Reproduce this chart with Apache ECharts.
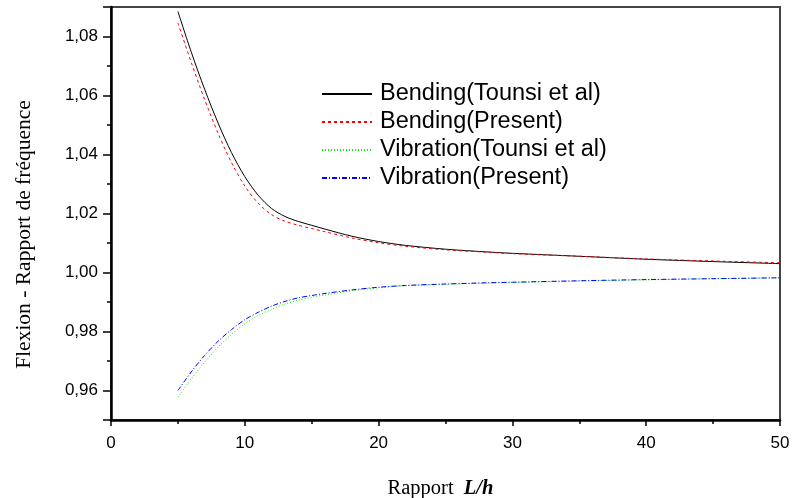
<!DOCTYPE html>
<html>
<head>
<meta charset="utf-8">
<script src="https://cdn.jsdelivr.net/npm/echarts@6/dist/echarts.min.js"></script>
<style>
  html, body { margin: 0; padding: 0; background: #fff; }
  #chart { width: 792px; height: 498px; }
</style>
</head>
<body>
<div id="chart"></div>
<script>
// rapport L/h
var ratioLh = [5, 6, 7, 8, 9, 10, 11, 12, 13, 14, 15, 16, 18, 20, 22, 25, 28, 30, 35, 40, 45, 50];

var bendingTounsi = [1.0885, 1.0747, 1.0621, 1.0507, 1.0407, 1.0325, 1.0262, 1.0217, 1.0190, 1.0173, 1.0160,
  1.0147, 1.0123, 1.0105, 1.0092, 1.0079, 1.0070, 1.0065, 1.0055, 1.0045, 1.0037, 1.0030];
var bendingPresent = [1.0846, 1.0712, 1.0586, 1.0472, 1.0373, 1.0293, 1.0235, 1.0196, 1.0174, 1.0160, 1.0149,
  1.0138, 1.0117, 1.0101, 1.0089, 1.0077, 1.0069, 1.0064, 1.0055, 1.0046, 1.0039, 1.0033];
var vibrationTounsi = [0.9577, 0.9640, 0.9696, 0.9747, 0.9790, 0.9826, 0.9854, 0.9875, 0.9893, 0.9906, 0.9916,
  0.9924, 0.9938, 0.9948, 0.9955, 0.9960, 0.9964, 0.9966, 0.9971, 0.9975, 0.9979, 0.9982];
var vibrationPresent = [0.9600, 0.9663, 0.9719, 0.9767, 0.9806, 0.9840, 0.9865, 0.9886, 0.9902, 0.9914, 0.9922,
  0.9929, 0.9941, 0.9950, 0.9956, 0.9961, 0.9965, 0.9967, 0.9972, 0.9976, 0.9979, 0.9982];

var seriesNames = ['Bending(Tounsi et al)', 'Bending(Present)', 'Vibration(Tounsi et al)', 'Vibration(Present)'];

function pairs(vals) {
  return ratioLh.map(function (x, i) { return [x, vals[i]]; });
}

var chart = echarts.init(document.getElementById('chart'), null, { renderer: 'canvas' });

var sans = 'Liberation Sans, Arial, sans-serif';
var serif = 'Liberation Serif, Times New Roman, serif';

function lineSerie(name, vals, color, dash) {
  return {
    name: name,
    type: 'line',
    data: pairs(vals),
    smooth: 0.3,
    symbol: 'none',
    lineStyle: { color: color, width: 1, type: dash },
    itemStyle: { color: color },
    z: 3
  };
}

chart.setOption({
  animation: false,
  backgroundColor: '#fff',
  grid: {
    left: 111,
    right: 12,
    top: 7,
    bottom: 78,
    outerBoundsMode: 'none',
    show: true,
    borderColor: '#444',
    borderWidth: 2
  },
  legend: {
    data: seriesNames,
    orient: 'vertical',
    left: 316,
    top: 76,
    itemWidth: 50,
    itemHeight: 14,
    itemGap: 2,
    itemStyle: { opacity: 0 },
    lineStyle: { opacity: 1 },
    textStyle: {
      fontFamily: sans,
      fontSize: 23.5,
      lineHeight: 26,
      color: '#000',
      padding: [0, 0, 0, 3]
    }
  },
  xAxis: {
    type: 'value',
    min: 0,
    max: 50,
    interval: 10,
    name: 'Rapport  {b|L/h}',
    nameLocation: 'middle',
    nameGap: 58,
    nameTextStyle: {
      fontFamily: serif,
      fontSize: 20.5,
      color: '#000',
      padding: [0, 10, 0, 0],
      rich: {
        b: { fontFamily: serif, fontSize: 20.5, fontWeight: 'bold', fontStyle: 'italic', color: '#000' }
      }
    },
    axisLine: { onZero: false, lineStyle: { color: '#000', width: 2.5 } },
    axisTick: { length: 6, lineStyle: { color: '#000', width: 1.5 } },
    minorTick: { show: true, splitNumber: 2, length: 4, lineStyle: { color: '#000', width: 1.5 } },
    splitLine: { show: false },
    axisLabel: { fontFamily: sans, fontSize: 17, color: '#000', margin: 15 }
  },
  yAxis: {
    type: 'value',
    min: 0.95,
    max: 1.09,
    splitNumber: 7,
    name: 'Flexion - Rapport de fréquence',
    nameLocation: 'middle',
    nameGap: 76,
    nameTextStyle: {
      fontFamily: serif,
      fontSize: 21.5,
      color: '#000',
      padding: [0, 42, 0, 0]
    },
    axisLine: { lineStyle: { color: '#000', width: 2.5 } },
    axisTick: { length: 8, lineStyle: { color: '#000', width: 1.5 } },
    minorTick: { show: true, splitNumber: 2, length: 4, lineStyle: { color: '#000', width: 1.5 } },
    splitLine: { show: false },
    axisLabel: {
      fontFamily: sans,
      fontSize: 17,
      color: '#000',
      margin: 13,
      showMinLabel: false,
      showMaxLabel: false,
      formatter: function (v) { return v.toFixed(2).replace('.', ','); }
    }
  },
  series: [
    lineSerie(seriesNames[0], bendingTounsi, '#000000', 'solid'),
    lineSerie(seriesNames[1], bendingPresent, '#ff0000', [3, 3]),
    lineSerie(seriesNames[2], vibrationTounsi, '#00ee00', [1, 2]),
    lineSerie(seriesNames[3], vibrationPresent, '#0000ff', [5, 2, 1, 2])
  ]
});
</script>
</body>
</html>
